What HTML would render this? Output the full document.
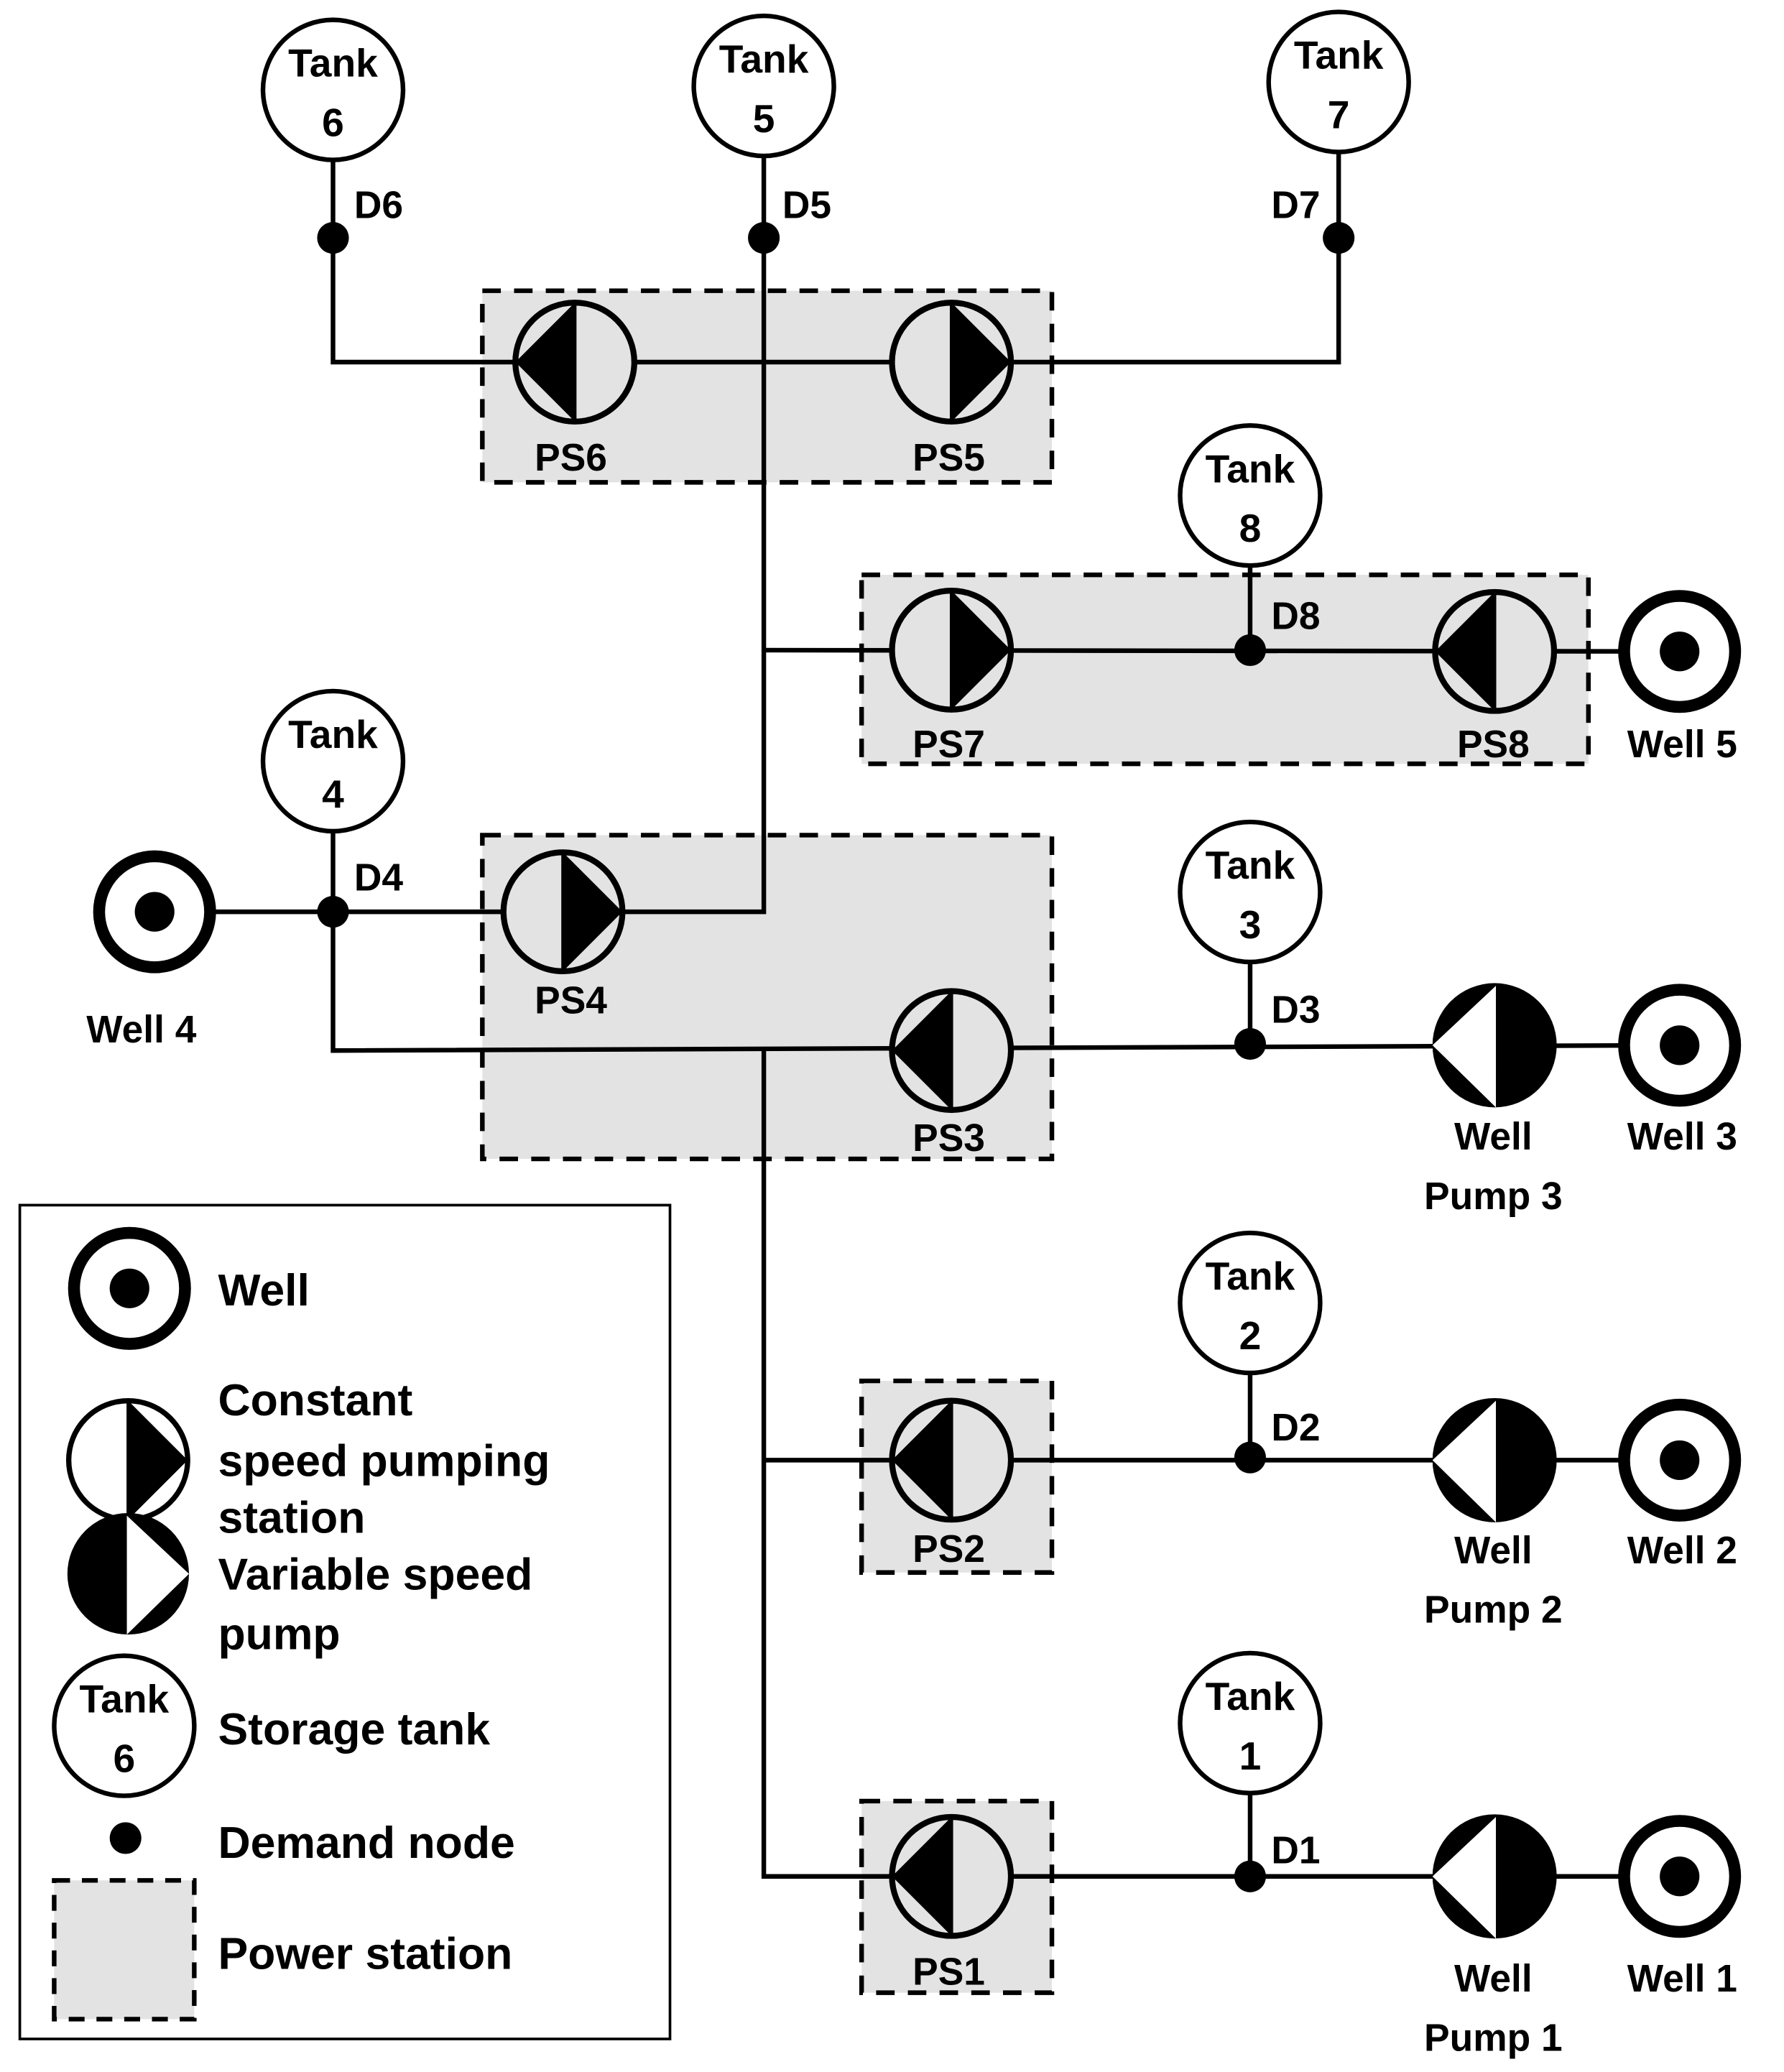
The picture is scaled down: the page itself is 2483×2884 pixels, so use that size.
<!DOCTYPE html>
<html><head><meta charset="utf-8"><style>
html,body{margin:0;padding:0;background:#fff;}
svg{display:block;}
text{font-family:"Liberation Sans",Arial,sans-serif;font-weight:bold;fill:#000;}
</style></head><body>
<svg width="2483" height="2884" viewBox="0 0 1350 1568" xmlns="http://www.w3.org/2000/svg">
<defs>
<g id="cr"><circle r="45" fill="#e3e3e3" stroke="#000" stroke-width="4.5"/><line x1="0" y1="-45" x2="0" y2="45" stroke="#000" stroke-width="2.5"/><polygon points="0,-45 45,0 0,45" fill="#000"/></g>
<g id="cl"><circle r="45" fill="#e3e3e3" stroke="#000" stroke-width="4.5"/><line x1="0" y1="-45" x2="0" y2="45" stroke="#000" stroke-width="2.5"/><polygon points="0,-45 -45,0 0,45" fill="#000"/></g>
<g id="vl"><circle r="47" fill="#000"/><polygon points="1,-45 -47,0 1,47" fill="#fff"/></g>
<g id="well"><circle r="42" fill="#fff" stroke="#000" stroke-width="9"/><circle r="15" fill="#000"/></g>
</defs>
<g fill="#e3e3e3" stroke="#000" stroke-width="3.5" stroke-dasharray="14,10">
<rect x="365" y="220" width="431" height="145"/>
<rect x="652" y="435" width="550" height="143"/>
<rect x="365" y="632" width="431" height="245"/>
<rect x="652" y="1045" width="144" height="145"/>
<rect x="652" y="1363" width="144" height="145"/>
</g>
<g stroke="#000" stroke-width="3.5" fill="none">
<polyline points="252,118 252,274 1013,274 1013,115"/>
<polyline points="578,118 578,690 163,690"/>
<line x1="578" y1="492" x2="1271" y2="493"/>
<line x1="946" y1="428" x2="946" y2="492"/>
<line x1="252" y1="628" x2="252" y2="690"/>
<polyline points="252,690 252,795 1271,791"/>
<line x1="946" y1="728" x2="946" y2="790"/>
<polyline points="578,795 578,1420 1271,1420"/>
<line x1="578" y1="1105" x2="1271" y2="1105"/>
<line x1="946" y1="1039" x2="946" y2="1103"/>
<line x1="946" y1="1357" x2="946" y2="1420"/>
</g>
<g fill="#fff" stroke="#000" stroke-width="3.5">
<circle cx="252" cy="68" r="53"/><circle cx="578" cy="65" r="53"/><circle cx="1013" cy="62" r="53"/>
<circle cx="946" cy="375" r="53"/><circle cx="252" cy="576" r="53"/><circle cx="946" cy="675" r="53"/>
<circle cx="946" cy="986" r="53"/><circle cx="946" cy="1304" r="53"/><circle cx="94" cy="1306" r="53"/>
</g>
<g fill="#000">
<circle cx="252" cy="180" r="12"/><circle cx="578" cy="180" r="12"/><circle cx="1013" cy="180" r="12"/>
<circle cx="946" cy="492" r="12"/><circle cx="252" cy="690" r="12"/><circle cx="946" cy="790" r="12"/>
<circle cx="946" cy="1103" r="12"/><circle cx="946" cy="1420" r="12"/><circle cx="95" cy="1391" r="12"/>
</g>
<use href="#cl" x="435" y="274"/><use href="#cr" x="720" y="274"/>
<use href="#cr" x="720" y="492"/><use href="#cl" x="1131" y="493"/>
<use href="#cr" x="426" y="690"/><use href="#cl" x="720" y="795"/>
<use href="#cl" x="720" y="1105"/><use href="#cl" x="720" y="1420"/>
<use href="#vl" x="1131" y="791"/><use href="#vl" x="1131" y="1105"/><use href="#vl" x="1131" y="1420"/>
<use href="#well" x="1271" y="493"/><use href="#well" x="117" y="690"/><use href="#well" x="1271" y="791"/>
<use href="#well" x="1271" y="1105"/><use href="#well" x="1271" y="1420"/>
<g font-size="30" text-anchor="middle">
<text x="252" y="58">Tank</text><text x="252" y="103">6</text>
<text x="578" y="55">Tank</text><text x="578" y="100">5</text>
<text x="1013" y="52">Tank</text><text x="1013" y="97">7</text>
<text x="946" y="365">Tank</text><text x="946" y="410">8</text>
<text x="252" y="566">Tank</text><text x="252" y="611">4</text>
<text x="946" y="665">Tank</text><text x="946" y="710">3</text>
<text x="946" y="976">Tank</text><text x="946" y="1021">2</text>
<text x="946" y="1294">Tank</text><text x="946" y="1339">1</text>
<text x="94" y="1296">Tank</text><text x="94" y="1341">6</text>
</g>
<g font-size="29">
<text x="268" y="165">D6</text><text x="592" y="165">D5</text><text x="962" y="165">D7</text>
<text x="962" y="476">D8</text><text x="268" y="674">D4</text><text x="962" y="774">D3</text>
<text x="962" y="1090">D2</text><text x="962" y="1410">D1</text>
</g>
<g font-size="29" text-anchor="middle">
<text x="432" y="356">PS6</text><text x="718" y="356">PS5</text>
<text x="718" y="573">PS7</text><text x="1130" y="573">PS8</text>
<text x="432" y="767">PS4</text><text x="718" y="871">PS3</text>
<text x="718" y="1182">PS2</text><text x="718" y="1502">PS1</text>
<text x="1273" y="573">Well 5</text><text x="107" y="789">Well 4</text>
<text x="1273" y="870">Well 3</text><text x="1273" y="1183">Well 2</text><text x="1273" y="1507">Well 1</text>
<text x="1130" y="870">Well</text><text x="1130" y="915">Pump 3</text>
<text x="1130" y="1183">Well</text><text x="1130" y="1228">Pump 2</text>
<text x="1130" y="1507">Well</text><text x="1130" y="1552">Pump 1</text>
</g>
<rect x="15" y="912" width="492" height="631" fill="none" stroke="#000" stroke-width="2"/>
<use href="#well" x="98" y="975"/>
<g transform="translate(97,1105)"><circle r="45" fill="#fff" stroke="#000" stroke-width="4"/><line x1="0" y1="-45" x2="0" y2="45" stroke="#000" stroke-width="2.5"/><polygon points="0,-45 45,0 0,45" fill="#000"/></g>
<g transform="translate(97,1191)"><circle r="46" fill="#000"/><polygon points="-1,-44 46,0 -1,46" fill="#fff"/></g>
<rect x="41" y="1423" width="106" height="105" fill="#e3e3e3" stroke="#000" stroke-width="3.5" stroke-dasharray="12,9"/>
<g font-size="34">
<text x="165" y="988">Well</text>
<text x="165" y="1071">Constant</text>
<text x="165" y="1117">speed pumping</text>
<text x="165" y="1160">station</text>
<text x="165" y="1203">Variable speed</text>
<text x="165" y="1248">pump</text>
<text x="165" y="1320">Storage tank</text>
<text x="165" y="1406">Demand node</text>
<text x="165" y="1490">Power station</text>
</g>
</svg>
</body></html>
